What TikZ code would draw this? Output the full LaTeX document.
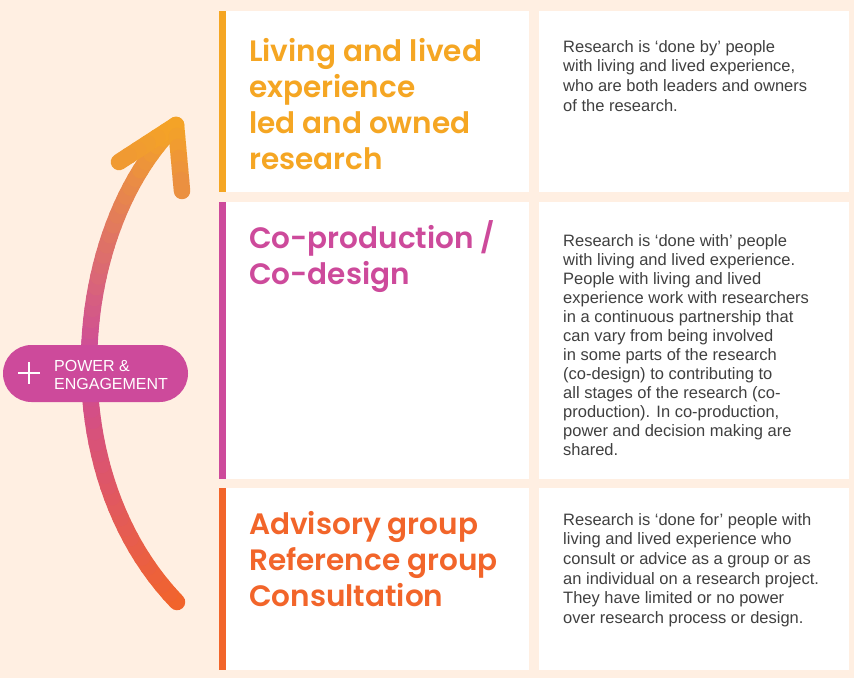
\documentclass[tikz,border=0pt]{standalone}
\usepackage{fontspec}
\setmainfont{Liberation Sans}
\newfontfamily\headfont{Poppins SemiBold}
\usetikzlibrary{calc,shapes.misc}

\definecolor{bgpeach}{HTML}{FFEFE2}
\definecolor{ledorange}{HTML}{F5A623}
\definecolor{copink}{HTML}{CD4A9B}
\definecolor{advorange}{HTML}{F2652A}
\definecolor{bodygrey}{HTML}{404040}

% point on the power curve, #1 = t, #2 = name
\newcommand{\arcpoint}[2]{%
  \pgfmathsetmacro\arcu{1-#1}%
  \pgfmathsetmacro\arcx{\arcu*\arcu*\arcu*177+3*\arcu*\arcu*#1*50+3*\arcu*#1*#1*70+#1*#1*#1*176}%
  \pgfmathsetmacro\arcy{\arcu*\arcu*\arcu*602+3*\arcu*\arcu*#1*470+3*\arcu*#1*#1*230+#1*#1*#1*125}%
  \coordinate (#2) at (\arcx,\arcy);%
}

\tikzset{
  panel/.style={fill=white},
  headtext/.style={anchor=north west, inner sep=0pt, align=left,
    font=\headfont\fontsize{29.5}{36}\selectfont},
  bodytext/.style={anchor=north west, inner sep=0pt, align=left, text=bodygrey,
    font=\fontsize{16.5}{19.7}\selectfont},
  powerline/.style={line width=16.5pt, line cap=round},
  pill/.style={rounded rectangle, fill=copink, inner sep=0pt,
    minimum width=185pt, minimum height=57pt},
}

\begin{document}
\begin{tikzpicture}[x=1pt, y=-1pt]
        % Background
        \fill[bgpeach] (0,0) rectangle (854,678);
        \useasboundingbox (0,0) rectangle (854,678);

        % Panels (left title / right description)
        \fill[panel] (226,11) rectangle (529,192);
        \fill[panel] (539,11) rectangle (849,192);
        \fill[panel] (226,202) rectangle (529,479);
        \fill[panel] (539,202) rectangle (849,479);
        \fill[panel] (226,488) rectangle (529,670);
        \fill[panel] (539,488) rectangle (849,670);

        % Coloured side bars
        \fill[ledorange] (219,11) rectangle (226,192);
        \fill[copink] (219,202) rectangle (226,479);
        \fill[advorange] (219,488) rectangle (226,670);

        % Row 1: led and owned
        \node[headtext, text=ledorange] (ledhead) at (249,38.5)
          {Living and lived\\experience\\led and owned\\research};
        \node[bodytext] (leddesc) at (563,40)
          {Research is ‘done by’ people\\with living and lived experience,\\who are both leaders and owners\\of the research.};

        % Row 2: co-production
        \node[headtext, text=copink] (cohead) at (249,220.5)
          {Co-production /\\Co-design};
        \node[bodytext, font=\fontsize{16.5}{19}\selectfont] (codesc) at (563,234)
          {Research is ‘done with’ people\\with living and lived experience.\\People with living and lived\\experience work with researchers\\in a continuous partnership that\\can vary from being involved\\in some parts of the research\\(co-design) to contributing to\\all stages of the research (co-\\production). In co-production,\\power and decision making are\\shared.};

        % Row 3: advisory
        \node[headtext, text=advorange] (advhead) at (249,511.5)
          {Advisory group\\Reference group\\Consultation};
        \node[bodytext] (advdesc) at (563,513)
          {Research is ‘done for’ people with\\living and lived experience who\\consult or advice as a group or as\\an individual on a research project.\\They have limited or no power\\over research process or design.};

        % Power arrow, in short pieces for the colour run
        \foreach \i in {1,...,48}{
          \pgfmathsetmacro\ta{(\i-1)/48}
          \pgfmathsetmacro\tb{\i/48}
          \arcpoint{\ta}{pa}
          \arcpoint{\tb}{pb}
          \ifnum\i>24
            \pgfmathtruncatemacro\mixpc{(\i-24.5)/24*100}
            \colorlet{segcol}{ledorange!\mixpc!copink}
          \else
            \pgfmathtruncatemacro\mixpc{(\i-0.5)/24*100}
            \colorlet{segcol}{copink!\mixpc!advorange}
          \fi
          \draw[powerline, segcol] (pa) -- (pb);
        }

        % Arrow head
        \coordinate (tip) at (176,125);
        \coordinate (wingl) at (119,162);
        \coordinate (wingr) at (182,191);
        \foreach \w/\wend in {wingl/86, wingr/74}{
          \foreach \k in {1,...,6}{
            \pgfmathtruncatemacro\wpc{100-(100-\wend)*(\k-0.5)/6}
            \draw[powerline, ledorange!\wpc!copink]
              ($(tip)!{(\k-1)/6}!(\w)$) -- ($(tip)!{\k/6}!(\w)$);
          }
        }

        % Power & engagement label
        \node[pill] (powerpill) at (95.5,373.5) {};
        \draw[white, line width=2pt] (18,373) -- (40,373) (29,362) -- (29,384);
        \node[anchor=north west, inner sep=0pt, align=left, text=white,
          font=\fontsize{16}{18}\selectfont] (powertext) at (54,360.5)
          {POWER \&\\ENGAGEMENT};

\end{tikzpicture}
\end{document}
